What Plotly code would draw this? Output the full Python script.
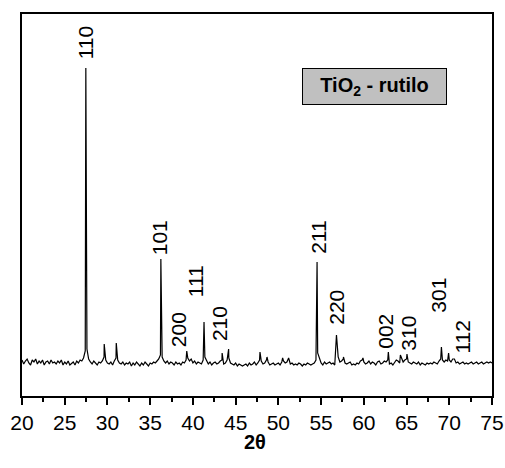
import numpy as np
import plotly.graph_objects as go

# ---- data (intensity in arbitrary units) ----
# baseline samples every 0.2 deg from 20.0 to 75.0
baseline_start = 20.0
baseline_step = 0.2
baseline = [
    3, -1, 2, 4, 0, -2, 3, 1, 4, -1,      # 20.0-21.8
    2, 0, 3, -2, 1, 2, -1, 3, 0, 1,       # 22.0-23.8
    -1, 2, 0, 3, -2, 1, -1, 2, -2, 0,     # 24.0-25.8
    1, -2, 2, 0, 3, 2, 5, 12, 14, 4,      # 26.0-27.8
    1, -1, 2, 0, -2, 1, 0, 2, 6, 3,       # 28.0-29.8
    0, -1, 1, -2, 2, 5, 3, 0, -1, 1,      # 30.0-31.8
    -2, 0, -1, 1, -3, 0, -2, 1, -1, -3,   # 32.0-33.8
    0, -2, 1, -1, -3, 0, -1, 1, 0, 2,     # 34.0-35.8
    4, 8, 6, 2, 0, 2, -1, 1, 0, -2,       # 36.0-37.8
    1, -1, 0, -2, 1, 0, 3, 5, 2, 4,       # 38.0-39.8
    0, 2, -1, 1, 0, -1, 3, 6, 2, -1,      # 40.0-41.8
    1, -2, 0, 1, -1, 0, 2, 3, -1, 0,      # 42.0-43.8
    3, 5, 0, -1, -2, 0, -3, -1, -2, -3,   # 44.0-45.8
    -2, -1, -3, 0, -2, -1, 1, -2, 0, 3,   # 46.0-47.8
    2, -1, 0, 3, 1, -2, -1, 0, -2, -1,    # 48.0-49.8
    0, -2, 1, 2, 0, 1, 2, -1, 0, -2,      # 50.0-51.8
    -1, -2, 0, -1, -3, -1, -2, 0, -1, -2, # 52.0-53.8
    -1, 0, 3, 10, 4, 0, -2, 1, -1, 0,     # 54.0-55.8
    1, -1, 0, -2, 3, 6, 1, 2, 4, 0,       # 56.0-57.8
    -1, 0, 1, -2, -1, -2, 0, -1, 2, 3,    # 58.0-59.8
    1, -1, 0, 2, -1, 1, 0, -2, 1, 2,      # 60.0-61.8
    -1, 0, 2, 1, 3, -1, 0, -2, 1, 3,      # 62.0-63.8
    2, 0, 5, 1, 3, 4, 1, 0, -1, 1,        # 64.0-65.8
    0, -1, 1, -2, 0, -1, -2, 0, -1, 0,    # 66.0-67.8
    -1, 1, 0, -1, 2, 4, 3, 1, 3, 2,       # 68.0-69.8
    3, 1, 4, 2, 0, 1, -1, 0, 1, -1,       # 70.0-71.8
    0, -1, 0, 1, -1, 0, 1, -1, 0, 1,      # 72.0-73.8
    -1, 0, 1, 0, 1, 0,                    # 74.0-75.0
]

peak_2theta = [27.47, 29.62, 31.03, 36.25, 39.28, 41.30, 43.42, 44.18, 47.85,
               48.67, 50.50, 51.20, 54.53, 56.80, 57.62, 59.90, 62.87, 64.28,
               65.05, 69.08, 69.92, 70.60]
peak_intensity = [295, 19, 20, 104, 12, 41, 10, 14, 11,
                  6, 5, 5, 101, 28, 6, 5, 11, 8,
                  9, 16, 10, 4]

hkl_labels = ["110", "101", "200", "111", "210", "211", "220", "002", "310", "301", "112"]
hkl_label_x = [27.41, 36.06, 38.27, 40.26, 43.06, 54.62, 56.72, 62.45, 65.13, 68.64, 71.44]
hkl_label_y = [320, 125, 33, 82, 39, 126, 56, 32, 30, 68, 26]

x_ticks = [20, 25, 30, 35, 40, 45, 50, 55, 60, 65, 70, 75]

# ---- merge baseline samples and peak maxima into one pattern ----
pattern = {}
for i, v in enumerate(baseline):
    pattern[round(baseline_start + i * baseline_step, 2)] = v
for p, h in zip(peak_2theta, peak_intensity):
    pattern[round(p, 2)] = h
xs = sorted(pattern)
ys = [pattern[k] for k in xs]

FONT = "Arial, 'Liberation Sans', sans-serif"

fig = go.Figure()
fig.add_trace(go.Scatter(x=xs, y=ys, mode="lines",
                         line=dict(color="black", width=1.2),
                         showlegend=False, hoverinfo="skip"))

annotations = []
for lab, lx, ly in zip(hkl_labels, hkl_label_x, hkl_label_y):
    annotations.append(dict(x=lx, y=ly, xref="x", yref="y", text=lab,
                            textangle=-90, showarrow=False,
                            font=dict(family=FONT, size=21, color="black"),
                            xanchor="center", yanchor="middle"))

annotations.append(dict(x=0.75, y=0.81, xref="paper", yref="paper",
                        text="<b>TiO<sub>2</sub> - rutilo</b>",
                        showarrow=False, bgcolor="#c0c0c0",
                        bordercolor="black", borderwidth=1, borderpad=0,
                        width=143, height=35,
                        font=dict(family=FONT, size=20, color="black"),
                        xanchor="center", yanchor="middle"))

annotations.append(dict(x=0.496, y=-0.1204, xref="paper", yref="paper",
                        text="<b>2θ</b>", showarrow=False,
                        font=dict(family=FONT, size=20, color="black"),
                        xanchor="center", yanchor="middle"))

fig.update_layout(
    width=505, height=468,
    margin=dict(l=22, r=13, t=14, b=72, autoexpand=False),
    paper_bgcolor="white", plot_bgcolor="white",
    annotations=annotations,
    xaxis=dict(range=[20, 75], tickvals=x_ticks, ticks="outside",
               ticklen=7, tickwidth=2, tickcolor="black",
               minor=dict(dtick=2.5, tick0=20, ticks="outside", ticklen=4,
                          tickwidth=2, tickcolor="black", showgrid=False),
               showline=True, linewidth=2, linecolor="black", mirror=True,
               showgrid=False, zeroline=False, automargin=False,
               tickfont=dict(family=FONT, size=21, color="black")),
    yaxis=dict(range=[-33, 349], showticklabels=False, ticks="",
               showline=True, linewidth=2, linecolor="black", mirror=True,
               showgrid=False, zeroline=False, automargin=False),
)

fig.write_html("out.html")
